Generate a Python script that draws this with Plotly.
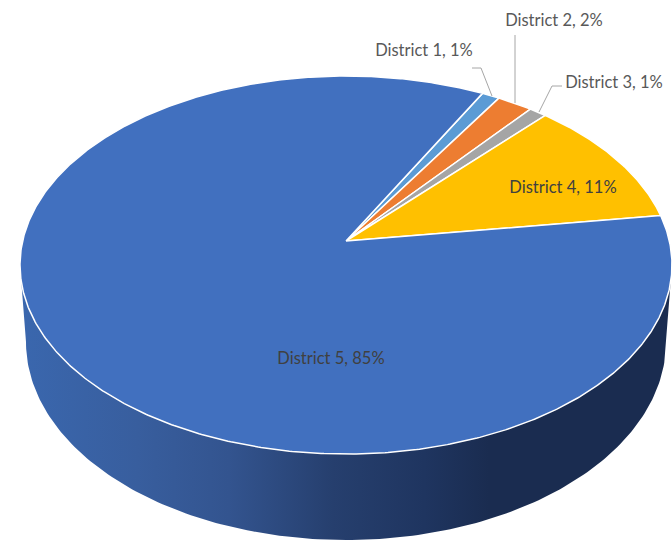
import numpy as np
import plotly.graph_objects as go

districts = ["District 1", "District 2", "District 3", "District 4", "District 5"]
shares = [1, 2, 1, 11, 85]
slice_colors = ["#5B9BD5", "#ED7D31", "#A5A5A5", "#FFC000", "#4170BF"]

label_x = [424, 554, 614, 563, 331]
label_y = [52, 22, 84, 189, 360]
label_colors = ["#595959", "#595959", "#595959", "#404040", "#404040"]
leaders = [
    ([472, 481, 492], [68, 68, 96]),
    ([515, 515], [35, 103]),
    ([562, 552, 539], [86, 86, 112]),
]

CX, CY, RX, RY = 346, 265, 326, 189
TILT = 0.127          # perspective shift of the pie centre
START_DEG = 28
BOT_CX, BOT_CY, BOT_RX, BOT_RY = 346, 342, 320, 198


def project(t):
    x, y = np.sin(t), np.cos(t)
    d = 1 + TILT * y
    xp = x * np.sqrt(1 - TILT ** 2) / d
    yp = (y + TILT) / d
    return CX + RX * xp, CY - RY * yp


fig = go.Figure()

# side wall: the top edge is hidden under the top face
ts = np.radians(np.linspace(90, 270, 181))
wx = np.concatenate([[CX + RX], BOT_CX + BOT_RX * np.sin(ts), [CX - RX]])
wy = np.concatenate([[CY], BOT_CY - BOT_RY * np.cos(ts), [CY]])
fig.add_trace(go.Scatter(
    x=wx, y=wy, mode="lines", line=dict(width=0), fill="toself",
    fillgradient=dict(
        type="horizontal", start=20, stop=672,
        colorscale=[
            [0.0, "#3A67AE"], [0.18, "#385E9E"], [0.32, "#33548F"],
            [0.48, "#263F6E"], [0.62, "#1F3560"], [0.72, "#1A2C50"], [1.0, "#1A2C50"],
        ],
    ),
    hoverinfo="skip", showlegend=False,
))

# top face slices
total = sum(shares)
angle = np.radians(START_DEG)
for name, val, col in zip(districts, shares, slice_colors):
    sweep = 2 * np.pi * val / total
    t = np.linspace(angle, angle + sweep, max(4, int(val * 8)))
    ex, ey = project(t)
    ax, ay = CX, CY - RY * TILT
    fig.add_trace(go.Scatter(
        x=np.concatenate([[ax], ex, [ax]]), y=np.concatenate([[ay], ey, [ay]]),
        mode="lines", fill="toself", fillcolor=col,
        line=dict(color="#FFFFFF", width=1.5),
        name=name, hoverinfo="skip", showlegend=False,
    ))
    angle += sweep

# leader lines
for lx, ly in leaders:
    fig.add_trace(go.Scatter(x=lx, y=ly, mode="lines",
                             line=dict(color="#A6A6A6", width=1),
                             hoverinfo="skip", showlegend=False))

# labels
fig.add_trace(go.Scatter(
    x=label_x, y=label_y, mode="text",
    text=[f"{n}, {v}%" for n, v in zip(districts, shares)],
    textposition="middle center",
    textfont=dict(family="Lato", size=16.5, color=label_colors),
    hoverinfo="skip", showlegend=False,
))

fig.update_layout(
    width=672, height=540,
    margin=dict(l=0, r=0, t=0, b=0),
    paper_bgcolor="#FFFFFF", plot_bgcolor="#FFFFFF",
    xaxis=dict(range=[0, 672], visible=False, fixedrange=True),
    yaxis=dict(range=[540, 0], visible=False, fixedrange=True),
    showlegend=False,
)
fig.write_html("out.html", config={"displayModeBar": False},
               post_script="document.body.style.margin='0';")
